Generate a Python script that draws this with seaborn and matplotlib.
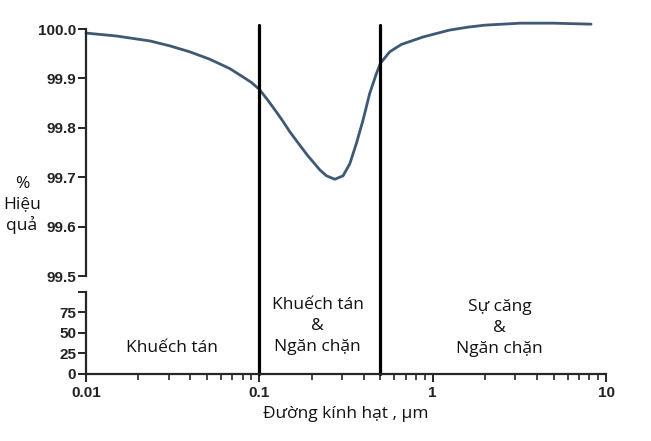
import matplotlib
matplotlib.use("Agg")
import matplotlib.pyplot as plt
from matplotlib.ticker import LogLocator, NullFormatter
import pandas as pd
import seaborn as sns

# particle diameter (um) and filter efficiency (%)
diameter = [0.01, 0.015, 0.0234, 0.0305, 0.0397, 0.0518, 0.0676, 0.0806, 0.09, 0.1,
            0.112, 0.1256, 0.1371, 0.15, 0.1712, 0.19, 0.2137, 0.2233, 0.244, 0.2724,
            0.3041, 0.3323, 0.3633, 0.3966, 0.4334, 0.4737, 0.5, 0.565, 0.66,
            0.879, 1.25, 1.6, 2.0, 3.2, 5.0, 8.2]
efficiency = [99.992, 99.986, 99.976, 99.966, 99.954, 99.939, 99.920, 99.903, 99.892, 99.878,
              99.856, 99.832, 99.813, 99.792, 99.765, 99.744, 99.723, 99.715, 99.703, 99.696,
              99.703, 99.727, 99.769, 99.816, 99.870, 99.910, 99.931, 99.954, 99.969,
              99.984, 99.998, 100.004, 100.008, 100.012, 100.012, 100.010]

boundaries = [0.1, 0.5]

top_ticks = [99.5, 99.6, 99.7, 99.8, 99.9, 100.0]
bottom_ticks = [0, 25, 50, 75, 100]
bottom_labels = ["0", "25", "50", "75", ""]
x_ticks = [0.01, 0.1, 1, 10]
x_labels = ["0.01", "0.1", "1", "10"]

regions = ["Khuếch tán", "Khuếch tán\n&\nNgăn chặn", "Sự căng\n&\nNgăn chặn"]
region_x = [0.0313, 0.217, 2.43]
region_y = [31.7, 58.5, 56.0]

df = pd.DataFrame({"d": diameter, "eff": efficiency})

sns.set_style("ticks")
plt.rcParams["font.family"] = ["Open Sans", "DejaVu Sans"]

fig = plt.figure(figsize=(6.51, 4.41), dpi=100)
ax_top = fig.add_axes([0.1321, 0.374, 0.7988, 0.560])
ax_bot = fig.add_axes([0.1321, 0.152, 0.7988, 0.186])

line_col = "#3f5873"
tick_kw = dict(fontweight="bold", fontfamily="Liberation Sans", fontsize=11, color="#222222")

sns.lineplot(data=df, x="d", y="eff", ax=ax_top, color=line_col, linewidth=2.0)
for ln in ax_top.lines:
    ln.set_clip_on(False)
    ln.set_solid_joinstyle("round")

for ax in (ax_top, ax_bot):
    ax.set_xscale("log")
    ax.set_xlim(0.01, 10)
    ax.set_xlabel("")
    ax.set_ylabel("")
    for s in ("top", "right"):
        ax.spines[s].set_visible(False)
    ax.spines["left"].set_linewidth(1.6)
    ax.spines["bottom"].set_linewidth(1.6)
    ax.tick_params(axis="y", direction="out", length=6, width=1.4, pad=1)

ax_top.set_ylim(99.5, 100.0)
ax_top.set_yticks(top_ticks)
ax_top.set_yticklabels([f"{t:.1f}" for t in top_ticks], **tick_kw)
ax_top.spines["bottom"].set_visible(False)
ax_top.tick_params(axis="x", which="both", bottom=False, labelbottom=False)

ax_bot.set_ylim(0, 100)
ax_bot.set_yticks(bottom_ticks)
ax_bot.set_yticklabels(bottom_labels, **tick_kw)
ax_bot.set_xticks(x_ticks)
ax_bot.set_xticklabels(x_labels, **tick_kw)
ax_bot.xaxis.set_minor_locator(LogLocator(base=10, subs=range(2, 10)))
ax_bot.xaxis.set_minor_formatter(NullFormatter())
ax_bot.tick_params(axis="x", which="major", direction="out", length=6, width=1.4, pad=3)
ax_bot.tick_params(axis="x", which="minor", direction="out", length=4, width=1.2)

for b in boundaries:
    ax_top.axvline(b, ymin=0, ymax=1.016, color="black", linewidth=2.3, clip_on=False)
    ax_bot.axvline(b, ymin=0, ymax=1.2, color="black", linewidth=2.3, clip_on=False)

for txt, x, y in zip(regions, region_x, region_y):
    ax_bot.text(x, y, txt, ha="center", va="center", fontsize=12.5,
                linespacing=1.4, color="#111111", clip_on=False)

ax_bot.set_xlabel("Đường kính hạt , μm", fontsize=12.5, labelpad=4, color="#111111")

fig.text(22 / 651, 1 - 205 / 441, "%\nHiệu\nquả", ha="center", va="center",
         fontsize=12.5, linespacing=1.3, color="#111111")

fig.savefig("out.png", dpi=100)
